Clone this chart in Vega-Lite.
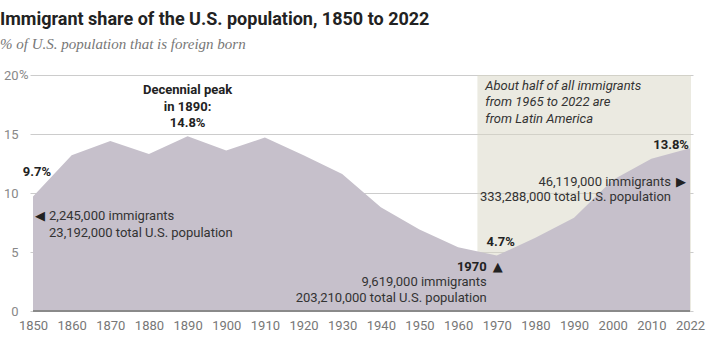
{
  "$schema": "https://vega.github.io/schema/vega-lite/v6.json",
  "autosize": {"type": "none"},
  "width": 663,
  "height": 236,
  "padding": {"left": 30, "top": 75, "right": 21, "bottom": 34},
  "background": "white",
  "title": {
    "text": "Immigrant share of the U.S. population, 1850 to 2022",
    "subtitle": "% of U.S. population that is foreign born",
    "anchor": "start",
    "frame": "group",
    "dx": -30,
    "offset": 17,
    "font": "Roboto",
    "fontSize": 18,
    "fontWeight": "bold",
    "color": "#222222",
    "subtitleFont": "Liberation Serif",
    "subtitleFontStyle": "italic",
    "subtitleFontSize": 15,
    "subtitleColor": "#777777",
    "subtitlePadding": 8
  },
  "config": {
    "view": {"stroke": null},
    "text": {"font": "Roboto", "fontSize": 13, "baseline": "middle", "color": "#333333"}
  },
  "datasets": {
    "share": [
      {"year": 1850, "share": 9.7},
      {"year": 1860, "share": 13.2},
      {"year": 1870, "share": 14.4},
      {"year": 1880, "share": 13.3},
      {"year": 1890, "share": 14.8},
      {"year": 1900, "share": 13.6},
      {"year": 1910, "share": 14.7},
      {"year": 1920, "share": 13.2},
      {"year": 1930, "share": 11.6},
      {"year": 1940, "share": 8.8},
      {"year": 1950, "share": 6.9},
      {"year": 1960, "share": 5.4},
      {"year": 1970, "share": 4.7},
      {"year": 1980, "share": 6.2},
      {"year": 1990, "share": 7.9},
      {"year": 2000, "share": 11.1},
      {"year": 2010, "share": 12.9},
      {"year": 2022, "share": 13.8}
    ],
    "region": [{"from": 1960, "to": 2022, "top": 20, "bottom": 0}],
    "baseline": [{"from": 1850, "to": 2022, "value": 0}]
  },
  "encoding": {
    "x": {
      "field": "year",
      "type": "ordinal",
      "scale": {"type": "point", "padding": 0.078, "domain": [1850, 1860, 1870, 1880, 1890, 1900, 1910, 1920, 1930, 1940, 1950, 1960, 1970, 1980, 1990, 2000, 2010, 2022]},
      "axis": {"title": null, "labelAngle": 0, "ticks": false, "domain": false, "grid": false, "labelPadding": 8, "labelFont": "Roboto", "labelFontSize": 13, "labelColor": "#777777"}
    },
    "y": {
      "field": "share",
      "type": "quantitative",
      "scale": {"domain": [0, 20], "nice": false},
      "axis": {"title": null, "values": [0, 5, 10, 15, 20], "grid": true, "gridColor": "#cccccc", "gridWidth": 1, "ticks": false, "domain": false, "labelPadding": 12, "labelFont": "Roboto", "labelFontSize": 13, "labelColor": "#888888"}
    }
  },
  "layer": [
    {
      "data": {"name": "region"},
      "mark": {"type": "rect", "color": "#d8d6c4", "opacity": 0.5, "xOffset": 19.3, "x2Offset": 1},
      "encoding": {
        "x": {"field": "from", "type": "ordinal"},
        "x2": {"field": "to"},
        "y": {"field": "top", "type": "quantitative"},
        "y2": {"field": "bottom"}
      }
    },
    {
      "data": {"name": "share"},
      "mark": {"type": "area", "color": "#c6c0cb", "opacity": 1, "interpolate": "linear"}
    },
    {
      "data": {"name": "baseline"},
      "mark": {"type": "rule", "stroke": "#8a8a8a", "strokeWidth": 2},
      "encoding": {
        "x": {"field": "from", "type": "ordinal"},
        "x2": {"field": "to"},
        "y": {"field": "value", "type": "quantitative"}
      }
    },
    {
      "data": {"values": [{"year": 1850, "share": 20, "label": "%"}]},
      "mark": {"type": "text", "align": "left", "dx": -14, "color": "#888888"},
      "encoding": {"text": {"field": "label"}}
    },
    {
      "data": {"values": [
        {"year": 1890, "share": 18.69, "label": "Decennial peak"},
        {"year": 1890, "share": 17.25, "label": "in 1890:"},
        {"year": 1890, "share": 15.97, "label": "14.8%"}
      ]},
      "mark": {"type": "text", "align": "center", "fontWeight": "bold", "color": "#222222"},
      "encoding": {"text": {"field": "label"}}
    },
    {
      "data": {"values": [
        {"year": 1850, "share": 11.74, "label": "9.7%"},
        {"year": 1970, "share": 5.81, "label": "4.7%"}
      ]},
      "mark": {"type": "text", "align": "center", "dx": 4, "fontWeight": "bold", "color": "#222222"},
      "encoding": {"text": {"field": "label"}}
    },
    {
      "data": {"values": [{"year": 1970, "share": 3.77, "label": "1970"}]},
      "mark": {"type": "text", "align": "right", "dx": -10, "fontWeight": "bold", "color": "#222222"},
      "encoding": {"text": {"field": "label"}}
    },
    {
      "data": {"values": [{"year": 2022, "share": 14.11, "label": "13.8%"}]},
      "mark": {"type": "text", "align": "right", "dx": -1, "fontWeight": "bold", "color": "#222222"},
      "encoding": {"text": {"field": "label"}}
    },
    {
      "data": {"values": [{"year": 1970, "share": 3.77, "label": "▲"}]},
      "mark": {"type": "text", "align": "center", "dx": 1, "color": "#222222", "fontSize": 13, "font": "DejaVu Sans"},
      "encoding": {"text": {"field": "label"}}
    },
    {
      "data": {"values": [{"year": 1850, "share": 8.01, "label": "◀"}]},
      "mark": {"type": "text", "align": "left", "dx": 2, "color": "#222222", "fontSize": 13, "font": "DejaVu Sans"},
      "encoding": {"text": {"field": "label"}}
    },
    {
      "data": {"values": [{"year": 2022, "share": 10.89, "label": "▶"}]},
      "mark": {"type": "text", "align": "right", "dx": -4, "color": "#222222", "fontSize": 13, "font": "DejaVu Sans"},
      "encoding": {"text": {"field": "label"}}
    },
    {
      "data": {"values": [
        {"year": 1850, "share": 8.01, "label": "2,245,000 immigrants"},
        {"year": 1850, "share": 6.57, "label": "23,192,000 total U.S. population"}
      ]},
      "mark": {"type": "text", "align": "left", "dx": 16},
      "encoding": {"text": {"field": "label"}}
    },
    {
      "data": {"values": [
        {"year": 1970, "share": 2.42, "label": "9,619,000 immigrants"},
        {"year": 1970, "share": 1.06, "label": "203,210,000 total U.S. population"}
      ]},
      "mark": {"type": "text", "align": "right", "dx": -10},
      "encoding": {"text": {"field": "label"}}
    },
    {
      "data": {"values": [
        {"year": 2022, "share": 10.89, "label": "46,119,000 immigrants"},
        {"year": 2022, "share": 9.62, "label": "333,288,000 total U.S. population"}
      ]},
      "mark": {"type": "text", "align": "right", "dx": -19},
      "encoding": {"text": {"field": "label"}}
    },
    {
      "data": {"values": [
        {"year": 1970, "share": 19.03, "label": "About half of all immigrants"},
        {"year": 1970, "share": 17.67, "label": "from 1965 to 2022 are"},
        {"year": 1970, "share": 16.23, "label": "from Latin America"}
      ]},
      "mark": {"type": "text", "align": "left", "dx": -11.5, "fontStyle": "italic", "fontSize": 13},
      "encoding": {"text": {"field": "label"}}
    }
  ]
}
